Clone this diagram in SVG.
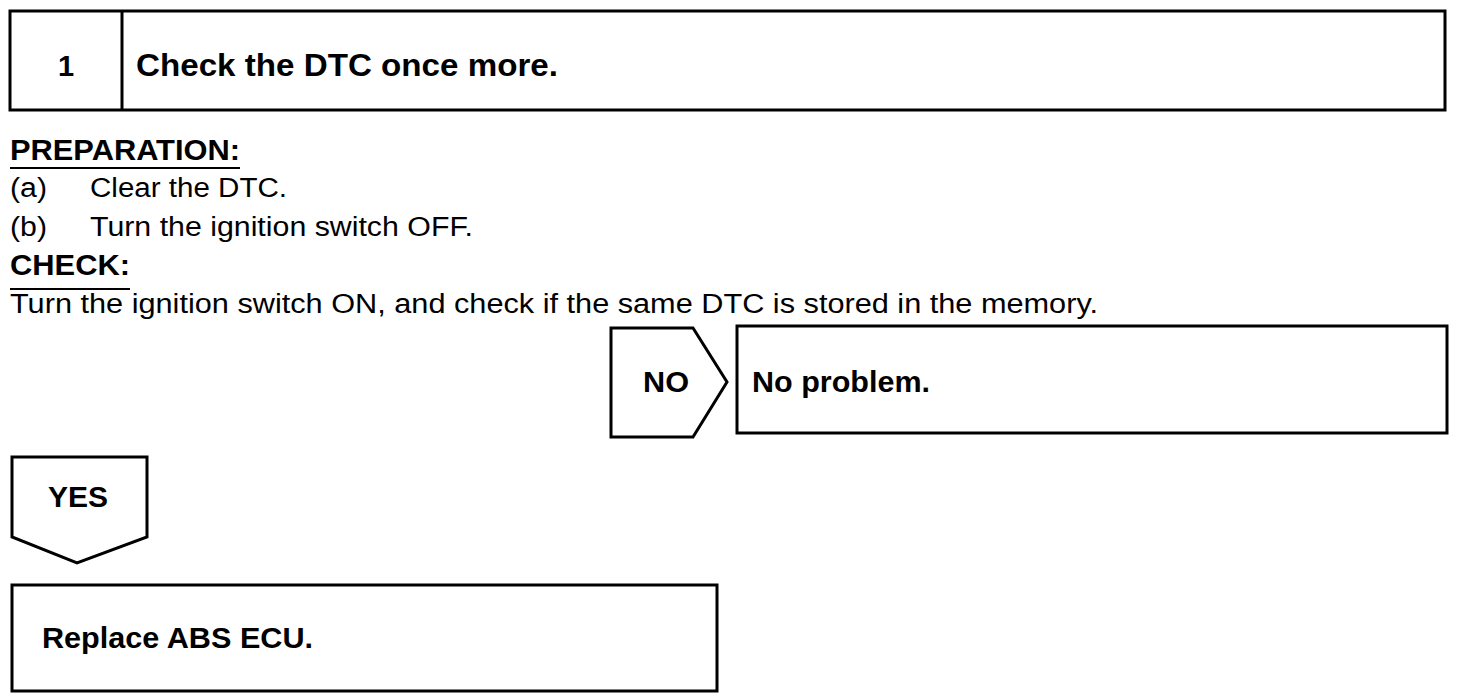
<svg xmlns="http://www.w3.org/2000/svg" width="1472" height="700" viewBox="0 0 1472 700">
<style>
.box{fill:none;stroke:#000;stroke-width:3}
.b{font-family:"Liberation Sans",Arial,sans-serif;font-weight:bold;font-size:29px;fill:#000}
.r{font-family:"Liberation Sans",Arial,sans-serif;font-size:27px;fill:#000}
.ul{stroke:#000;stroke-width:2}
</style>
<rect width="1472" height="700" fill="#fff"/>
<g id="step1">
<rect class="box" x="10" y="11" width="1435" height="99"/>
<line class="box" x1="122" y1="11" x2="122" y2="110"/>
<text class="b" x="66" y="76" text-anchor="middle">1</text>
<text class="b" x="136" y="76" style="font-size:32px" textLength="422" lengthAdjust="spacingAndGlyphs">Check the DTC once more.</text>
</g>
<g id="instructions">
<text class="b" x="10" y="160" textLength="230" lengthAdjust="spacingAndGlyphs">PREPARATION:</text>
<line class="ul" x1="10" y1="168" x2="240" y2="168"/>
<text class="r" x="10" y="197" textLength="37" lengthAdjust="spacingAndGlyphs">(a)</text>
<text class="r" x="90" y="197" textLength="197" lengthAdjust="spacingAndGlyphs">Clear the DTC.</text>
<text class="r" x="10" y="236" textLength="37" lengthAdjust="spacingAndGlyphs">(b)</text>
<text class="r" x="90" y="236" textLength="383" lengthAdjust="spacingAndGlyphs">Turn the ignition switch OFF.</text>
<text class="b" x="10" y="275" textLength="120" lengthAdjust="spacingAndGlyphs">CHECK:</text>
<line class="ul" x1="10" y1="289" x2="130" y2="289"/>
<text class="r" x="10" y="313" textLength="1088" lengthAdjust="spacingAndGlyphs">Turn the ignition switch ON, and check if the same DTC is stored in the memory.</text>
</g>
<g id="no">
<path class="box" d="M611,328 H693 L727,382 L693,437 H611 Z"/>
<text class="b" x="666" y="392" text-anchor="middle" textLength="46" lengthAdjust="spacingAndGlyphs">NO</text>
</g>
<g id="noproblem">
<rect class="box" x="737" y="326" width="710" height="107"/>
<text class="b" x="752" y="392" textLength="178" lengthAdjust="spacingAndGlyphs">No problem.</text>
</g>
<g id="yes">
<path class="box" d="M12,457 H147 V537 L77,563 L12,537 Z"/>
<text class="b" x="78" y="507" text-anchor="middle" textLength="60" lengthAdjust="spacingAndGlyphs">YES</text>
</g>
<g id="replace">
<rect class="box" x="12" y="585" width="705" height="106"/>
<text class="b" x="42" y="648" textLength="271" lengthAdjust="spacingAndGlyphs">Replace ABS ECU.</text>
</g>
<g id="connectors"></g>
</svg>
